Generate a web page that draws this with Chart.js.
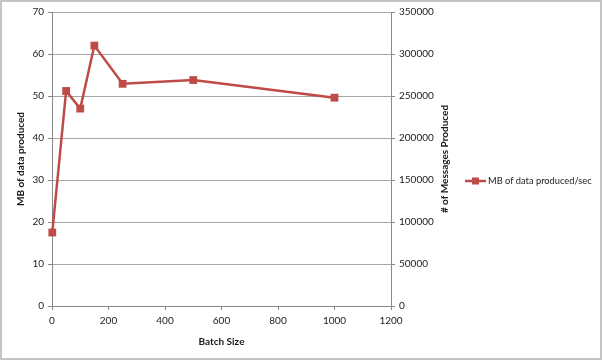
<!DOCTYPE html>
<html><head><meta charset="utf-8">
<script src="https://cdn.jsdelivr.net/npm/chart.js@4/dist/chart.umd.min.js"></script>
<style>html,body{margin:0;padding:0;background:#fff}#wrap{width:602px;height:360px;position:relative}</style>
</head><body><div id="wrap"><canvas id="c" width="602" height="360"></canvas></div>
<script>
const batchSizes = [1, 50, 100, 150, 250, 500, 1000];
const mbPerSec = [17.5, 51.2, 47.0, 62.0, 52.9, 53.8, 49.6];
const seriesName = 'MB of data produced/sec';
const xTitle = 'Batch Size';
const yLeftTitle = 'MB of data produced';
const yRightTitle = '# of Messages Produced';
const xTicks = [0, 200, 400, 600, 800, 1000, 1200];
const yLeftTicks = [0, 10, 20, 30, 40, 50, 60, 70];
const yRightTicks = [0, 50000, 100000, 150000, 200000, 250000, 300000, 350000];

const RED = '#be4b48';
const GRID = '#a6a6a6';
const AXIS = '#8a8a8a';
const TXT = '#1a1a1a';
const FONT = 'Lato';

const extras = {
  id: 'extras',
  afterDraw(chart) {
    const ctx = chart.ctx;
    const ca = chart.chartArea;
    ctx.save();
    // right axis title
    ctx.fillStyle = TXT;
    ctx.font = 'bold 10px ' + FONT;
    ctx.textAlign = 'center';
    ctx.textBaseline = 'middle';
    ctx.translate(445, (ca.top + ca.bottom) / 2);
    ctx.rotate(-Math.PI / 2);
    ctx.fillText(yRightTitle, 0, 0);
    ctx.restore();
    // legend
    ctx.save();
    const ds = chart.data.datasets[0];
    const ly = 181;
    ctx.strokeStyle = ds.borderColor;
    ctx.lineWidth = 2.5;
    ctx.beginPath(); ctx.moveTo(465, ly); ctx.lineTo(486, ly); ctx.stroke();
    ctx.fillStyle = ds.backgroundColor;
    ctx.fillRect(472, ly - 3.5, 7, 7);
    ctx.fillStyle = TXT;
    ctx.font = '9.3px ' + FONT;
    ctx.textAlign = 'left';
    ctx.textBaseline = 'middle';
    ctx.fillText(ds.label, 488, ly);
    // border
    ctx.strokeStyle = '#c4c4c4';
    ctx.lineWidth = 2;
    ctx.strokeRect(1, 1, 600, 358);
    ctx.restore();
  }
};

new Chart(document.getElementById('c'), {
  type: 'line',
  data: {
    datasets: [{
      label: seriesName,
      data: batchSizes.map((x, i) => ({x: x, y: mbPerSec[i]})),
      borderColor: RED,
      backgroundColor: RED,
      borderWidth: 2.5,
      pointStyle: 'rect',
      pointRadius: 5.5,
      pointHoverRadius: 5.5,
      pointBorderWidth: 0,
      tension: 0,
      clip: false,
      yAxisID: 'y'
    }]
  },
  options: {
    responsive: false,
    animation: false,
    devicePixelRatio: 1,
    layout: {padding: {top: 12, left: 0, right: 0, bottom: 0}},
    plugins: {legend: {display: false}, tooltip: {enabled: false}},
    scales: {
      x: {
        type: 'linear', min: 0, max: 1200,
        afterBuildTicks: s => { s.ticks = xTicks.map(v => ({value: v})); },
        afterFit: s => { s.height = 54; },
        grid: {drawOnChartArea: false, drawTicks: true, tickLength: 4, color: AXIS},
        border: {color: AXIS, width: 1},
        ticks: {padding: 5, color: TXT, font: {family: FONT, size: 10}, maxRotation: 0, callback: v => String(v)},
        title: {display: true, text: xTitle, color: TXT, font: {family: FONT, size: 10, weight: 'bold'}, padding: {top: 0, bottom: 12}}
      },
      y: {
        type: 'linear', position: 'left', min: 0, max: 70,
        afterBuildTicks: s => { s.ticks = yLeftTicks.map(v => ({value: v})); },
        afterFit: s => { s.width = 52; },
        grid: {color: GRID, tickLength: 4, tickColor: AXIS},
        border: {color: AXIS, width: 1},
        ticks: {padding: 4, color: TXT, font: {family: FONT, size: 10}},
        title: {display: true, text: yLeftTitle, color: TXT, font: {family: FONT, size: 10, weight: 'bold'}, padding: {top: 15, bottom: 0}}
      },
      y2: {
        type: 'linear', position: 'right', min: 0, max: 350000,
        afterBuildTicks: s => { s.ticks = yRightTicks.map(v => ({value: v})); },
        afterFit: s => { s.width = 211; },
        grid: {drawOnChartArea: false, tickLength: 4, color: AXIS},
        border: {color: AXIS, width: 1},
        ticks: {padding: 4, color: TXT, font: {family: FONT, size: 10}, callback: v => String(v)}
      }
    }
  },
  plugins: [extras]
});
</script>
</body></html>
